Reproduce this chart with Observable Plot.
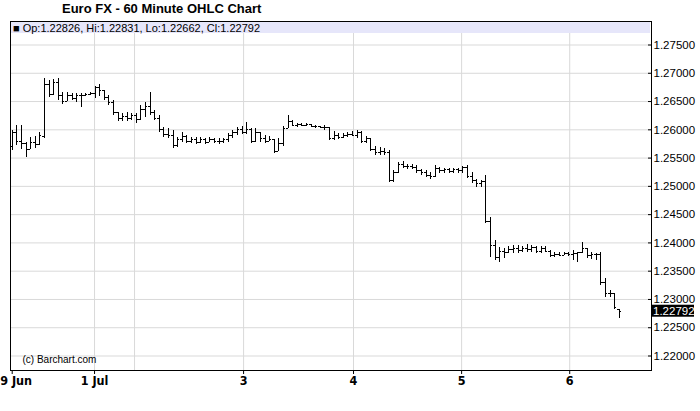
<!DOCTYPE html>
<html><head><meta charset="utf-8">
<script src="https://cdn.jsdelivr.net/npm/d3@7"></script>
<script src="https://cdn.jsdelivr.net/npm/@observablehq/plot@0.6"></script>
<style>
body{margin:0;background:#fff;}
#wrap{position:relative;width:700px;height:411px;overflow:hidden;font-family:"Liberation Sans",Arial,sans-serif;color:#000;}
#title{position:absolute;left:62px;top:1px;font-size:13px;font-weight:bold;line-height:16px;white-space:nowrap;}
#hdr{position:absolute;left:11px;top:22px;width:639px;height:11px;background:#e6e6fa;font-size:11px;line-height:12px;white-space:nowrap;padding-left:2px;box-sizing:border-box;}
#chart{position:absolute;left:0;top:0;}
</style>
</head><body>
<div id="wrap"><div id="chart"></div><div id="title"></div><div id="hdr"></div></div>
<script>
const titleText = "Euro FX - 60 Minute OHLC Chart";
const copyright = "(c) Barchart.com";
const opens = [1.2570,1.2595,1.2580,1.2575,1.2566,1.2578,1.2574,1.2588,1.2680,1.2662,
1.2684,1.2660,1.2650,1.2660,1.2656,1.2660,1.2660,1.2663,1.2664,1.2675,
1.2670,1.2658,1.2648,1.2630,1.2620,1.2624,1.2620,1.2625,1.2618,1.2636,
1.2642,1.2630,1.2620,1.2600,1.2592,1.2590,1.2572,1.2582,1.2588,1.2580,
1.2582,1.2578,1.2582,1.2578,1.2582,1.2580,1.2580,1.2582,1.2590,1.2595,
1.2600,1.2596,1.2600,1.2580,1.2595,1.2585,1.2580,1.2582,1.2562,1.2575,
1.2603,1.2615,1.2608,1.2610,1.2608,1.2609,1.2606,1.2605,1.2604,1.2604,
1.2584,1.2590,1.2586,1.2590,1.2592,1.2590,1.2596,1.2580,1.2584,1.2565,
1.2560,1.2562,1.2560,1.2510,1.2525,1.2538,1.2535,1.2536,1.2533,1.2528,
1.2524,1.2520,1.2518,1.2532,1.2528,1.2530,1.2527,1.2530,1.2528,1.2533,
1.2518,1.2510,1.2505,1.2508,1.2438,1.2395,1.2375,1.2385,1.2383,1.2388,
1.2390,1.2386,1.2390,1.2388,1.2392,1.2384,1.2390,1.2385,1.2378,1.2380,
1.2378,1.2381,1.2379,1.2382,1.2383,1.2390,1.2378,1.2380,1.2380,1.2330,
1.2310,1.2310,1.22826];
const highs = [1.2599,1.2608,1.2608,1.2578,1.2586,1.2588,1.2595,1.2691,1.2687,1.2689,
1.2691,1.2666,1.2666,1.2664,1.2664,1.2664,1.2664,1.2666,1.2677,1.2680,
1.2670,1.2661,1.2652,1.2631,1.2629,1.2631,1.2629,1.2629,1.2643,1.2648,
1.2666,1.2634,1.2625,1.2604,1.2602,1.2599,1.2586,1.2595,1.2590,1.2586,
1.2586,1.2586,1.2585,1.2586,1.2585,1.2585,1.2585,1.2593,1.2599,1.2604,
1.2606,1.2613,1.2602,1.2602,1.2595,1.2590,1.2588,1.2583,1.2585,1.2606,
1.2625,1.2616,1.2611,1.2611,1.2611,1.2609,1.2608,1.2606,1.2608,1.2604,
1.2597,1.2593,1.2593,1.2595,1.2597,1.2599,1.2597,1.2588,1.2585,1.2570,
1.2569,1.2567,1.2563,1.2528,1.2542,1.2544,1.2539,1.2539,1.2537,1.2530,
1.2528,1.2525,1.2537,1.2533,1.2532,1.2532,1.2532,1.2532,1.2535,1.2537,
1.2525,1.2512,1.2510,1.2519,1.2445,1.2404,1.2392,1.2390,1.2394,1.2395,
1.2395,1.2394,1.2397,1.2395,1.2394,1.2394,1.2394,1.2387,1.2383,1.2383,
1.2383,1.2383,1.2387,1.2383,1.2401,1.2390,1.2383,1.2381,1.2383,1.2337,
1.2316,1.2310,1.22831];
const lows = [1.2563,1.2572,1.2565,1.2551,1.2565,1.2567,1.2572,1.2585,1.2657,1.2661,
1.2652,1.2645,1.2650,1.2652,1.2648,1.2639,1.2659,1.2661,1.2655,1.2659,
1.2652,1.2643,1.2625,1.2615,1.2615,1.2615,1.2616,1.2611,1.2616,1.2622,
1.2625,1.2616,1.2595,1.2586,1.2585,1.2567,1.2569,1.2578,1.2576,1.2576,
1.2574,1.2576,1.2574,1.2578,1.2576,1.2574,1.2576,1.2578,1.2585,1.2590,
1.2592,1.2592,1.2576,1.2578,1.2578,1.2576,1.2579,1.2558,1.2562,1.2570,
1.2602,1.2606,1.2604,1.2606,1.2606,1.2604,1.2602,1.2602,1.2599,1.2581,
1.2581,1.2583,1.2585,1.2586,1.2588,1.2585,1.2576,1.2576,1.2562,1.2554,
1.2554,1.2554,1.2507,1.2507,1.2523,1.2532,1.2530,1.2530,1.2523,1.2519,
1.2516,1.2512,1.2516,1.2523,1.2523,1.2523,1.2523,1.2523,1.2523,1.2514,
1.2505,1.2498,1.2498,1.2434,1.2374,1.2369,1.2365,1.2372,1.2381,1.2381,
1.2381,1.2383,1.2383,1.2383,1.2381,1.2381,1.2383,1.2374,1.2374,1.2376,
1.2378,1.2376,1.2369,1.2365,1.2381,1.2372,1.2371,1.2369,1.2325,1.2303,
1.2303,1.2283,1.22662];
const closes = [1.2595,1.2580,1.2575,1.2566,1.2578,1.2574,1.2590,1.2680,1.2662,1.2684,
1.2660,1.2650,1.2660,1.2656,1.2660,1.2660,1.2663,1.2664,1.2675,1.2670,
1.2658,1.2648,1.2630,1.2620,1.2624,1.2620,1.2625,1.2618,1.2636,1.2642,
1.2630,1.2620,1.2600,1.2592,1.2590,1.2572,1.2582,1.2588,1.2580,1.2582,
1.2578,1.2582,1.2578,1.2582,1.2580,1.2580,1.2582,1.2590,1.2595,1.2600,
1.2596,1.2600,1.2580,1.2595,1.2585,1.2580,1.2582,1.2562,1.2575,1.2603,
1.2615,1.2608,1.2610,1.2608,1.2609,1.2606,1.2605,1.2604,1.2604,1.2584,
1.2590,1.2586,1.2590,1.2592,1.2590,1.2596,1.2580,1.2584,1.2565,1.2560,
1.2562,1.2560,1.2510,1.2525,1.2538,1.2535,1.2536,1.2533,1.2528,1.2524,
1.2520,1.2518,1.2532,1.2528,1.2530,1.2527,1.2530,1.2528,1.2533,1.2518,
1.2510,1.2505,1.2508,1.2438,1.2395,1.2375,1.2385,1.2383,1.2388,1.2390,
1.2386,1.2390,1.2388,1.2392,1.2384,1.2390,1.2385,1.2378,1.2380,1.2378,
1.2381,1.2379,1.2382,1.2383,1.2390,1.2378,1.2380,1.2380,1.2330,1.2310,
1.2310,1.2285,1.22792];
// day boundaries, in hourly-bar units
const dayTickPos = [0, 17.9, 50.3, 74.2, 97.7, 121.2];
const dayTickLabels = ["29 Jun", "1 Jul", "3", "4", "5", "6"];
const dayGridPos = [17.9, 26.6, 50.3, 74.2, 97.7, 121.2];
const yTicks = [1.22, 1.225, 1.23, 1.235, 1.24, 1.245, 1.25, 1.255, 1.26, 1.265, 1.27, 1.275];

const bars = opens.map((o, i) => ({i, open: o, high: highs[i], low: lows[i], close: closes[i]}));
const last = bars[bars.length - 1];
const f5 = d3.format(".5f");

document.getElementById("title").textContent = titleText;
document.getElementById("hdr").textContent =
  "\u25A0 Op:" + f5(last.open) + ", Hi:" + f5(last.high) + ", Lo:" + f5(last.low) + ", Cl:" + f5(last.close);

const chart = Plot.plot({
  width: 700, height: 411,
  marginTop: 21, marginRight: 49, marginBottom: 41, marginLeft: 10,
  x: {type: "linear", domain: [-0.37, 138.98]},
  y: {domain: [1.217436, 1.279156]},
  style: {fontFamily: "Liberation Sans, Arial, sans-serif", fontSize: "11px", color: "#000", background: "transparent", overflow: "visible"},
  marks: [
    Plot.gridY(yTicks, {stroke: "#d9d9d9", strokeOpacity: 1}),
    Plot.gridX(dayGridPos, {stroke: "#d9d9d9", strokeOpacity: 1}),
    Plot.ruleX(bars, {x: "i", y1: "low", y2: "high", stroke: "#000", shapeRendering: "crispEdges"}),
    Plot.ruleY(bars, {y: "open", x1: d => d.i - 0.45, x2: "i", stroke: "#000", shapeRendering: "crispEdges"}),
    Plot.ruleY(bars, {y: "close", x1: "i", x2: d => d.i + 0.45, stroke: "#000", shapeRendering: "crispEdges"}),
    Plot.axisY(yTicks, {anchor: "right", tickSize: -4, tickPadding: 6, tickFormat: f5, label: null, fontSize: 11.5, stroke: "#000"}),
    Plot.axisX(dayTickPos, {anchor: "bottom", tickSize: 4, tickPadding: 2, label: null,
      tickFormat: d => dayTickLabels[dayTickPos.indexOf(d)],
      fontWeight: "bold", fontSize: 12.5, fontFamily: "Liberation Sans Narrow, Arial Narrow, DejaVu Sans Condensed, sans-serif"}),
    Plot.text([copyright], {text: d => d, frameAnchor: "bottom-left", textAnchor: "start", dx: 12, dy: -8, fontSize: 10}),
    Plot.frame({stroke: "#000"})
  ]
});
document.getElementById("chart").appendChild(chart);

// last-price marker on the right axis
const svg = d3.select(chart);
const yPos = chart.scale("y").apply(last.close);
svg.append("rect").attr("x", 652).attr("y", yPos - 6).attr("width", 42).attr("height", 12).attr("fill", "#000");
svg.append("text").attr("x", 653).attr("y", yPos).attr("dy", "0.36em").attr("text-anchor", "start")
  .attr("fill", "#fff").attr("font-size", 11.5).attr("font-family", "Liberation Sans, Arial, sans-serif")
  .text(f5(last.close));
</script>
</body></html>
